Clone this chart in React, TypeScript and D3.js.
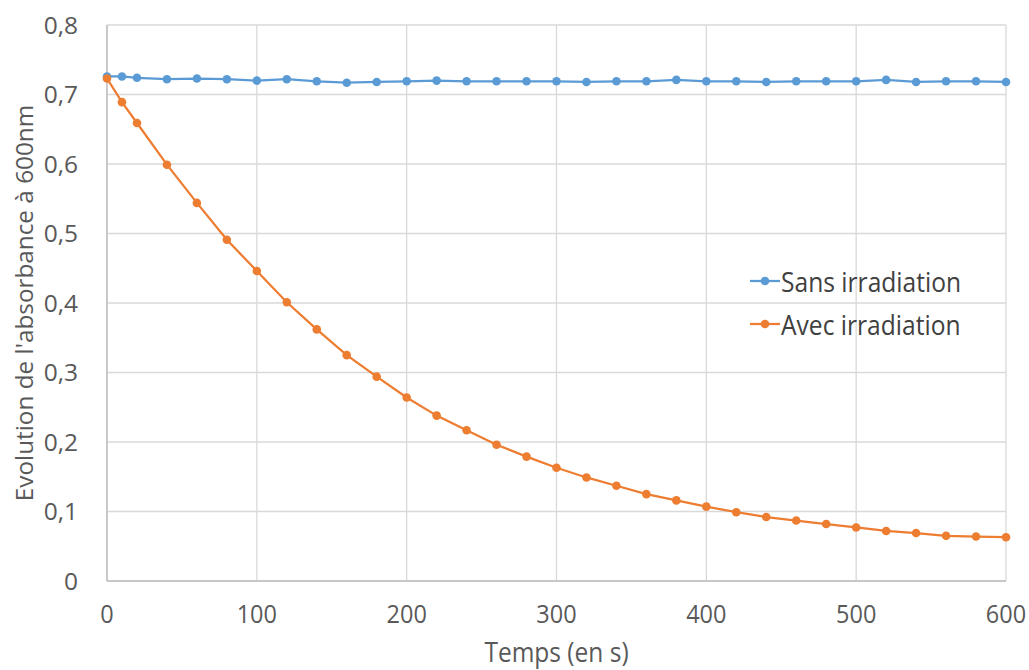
import React from "react";
import * as d3 from "d3";

const times = [0, 10, 20, 40, 60, 80, 100, 120, 140, 160, 180, 200, 220, 240, 260, 280, 300, 320, 340, 360, 380, 400, 420, 440, 460, 480, 500, 520, 540, 560, 580, 600];
const sansIrradiation = [0.726, 0.726, 0.724, 0.722, 0.723, 0.722, 0.720, 0.722, 0.719, 0.717, 0.718, 0.719, 0.720, 0.719, 0.719, 0.719, 0.719, 0.718, 0.719, 0.719, 0.721, 0.719, 0.719, 0.718, 0.719, 0.719, 0.719, 0.721, 0.718, 0.719, 0.719, 0.718];
const avecIrradiation = [0.723, 0.689, 0.659, 0.599, 0.544, 0.491, 0.446, 0.401, 0.362, 0.325, 0.294, 0.264, 0.238, 0.217, 0.196, 0.179, 0.163, 0.149, 0.137, 0.125, 0.116, 0.107, 0.099, 0.092, 0.087, 0.082, 0.077, 0.072, 0.069, 0.065, 0.064, 0.063];
const xTicks = [0, 100, 200, 300, 400, 500, 600];
const yTicks = [0, 0.1, 0.2, 0.3, 0.4, 0.5, 0.6, 0.7, 0.8];
const seriesNames = ["Sans irradiation", "Avec irradiation"];
const colors = ["#5B9BD5", "#ED7D31"];

const font = "'Open Sans', sans-serif";

function Txt(props: { x: number; y: number; size: number; sy?: number; anchor?: string; fill?: string; rotate?: number; children: React.ReactNode }) {
  const { x, y, size, sy = 1, anchor = "start", fill = "#595959", rotate = 0, children } = props;
  return (
    <g transform={`translate(${x},${y}) rotate(${rotate}) scale(1,${sy})`}>
      <text x={0} y={0} textAnchor={anchor as any} fontFamily={font} fontSize={size} fill={fill}>
        {children}
      </text>
    </g>
  );
}

export default function App() {
  const W = 1029, H = 670;
  const left = 107, right = 1006, top = 25, bottom = 581;
  const x = d3.scaleLinear().domain([0, 600]).range([left, right]);
  const y = d3.scaleLinear().domain([0, 0.8]).range([bottom, top]);
  const series = [sansIrradiation, avecIrradiation];
  const line = d3.line<number>().x((_, i) => x(times[i])).y((d) => y(d));
  const fmt = (v: number) => (v === 0 ? "0" : d3.format(".1f")(v).replace(".", ","));
  return (
    <svg width={W} height={H} style={{ position: "absolute", left: 0, top: 0, background: "#fff" }}>
      {yTicks.map((t) => (
        <line key={"gy" + t} x1={left} x2={right} y1={y(t)} y2={y(t)} stroke="#D9D9D9" strokeWidth={1.3} />
      ))}
      {xTicks.map((t) => (
        <line key={"gx" + t} x1={x(t)} x2={x(t)} y1={top} y2={bottom} stroke="#D9D9D9" strokeWidth={1.3} />
      ))}
      <line x1={left} x2={left} y1={top} y2={bottom} stroke="#BFBFBF" strokeWidth={1.5} />
      <line x1={left} x2={right} y1={bottom} y2={bottom} stroke="#BFBFBF" strokeWidth={1.5} />
      {yTicks.map((t) => (
        <Txt key={"ty" + t} x={78} y={y(t) + 8.8} size={24.5} anchor="end">
          {fmt(t)}
        </Txt>
      ))}
      {xTicks.map((t) => (
        <Txt key={"tx" + t} x={x(t)} y={623} size={23.5} sy={1.1} anchor="middle">
          {t}
        </Txt>
      ))}
      <Txt x={(left + right) / 2} y={662} size={24.5} sy={1.1} anchor="middle">
        Temps (en s)
      </Txt>
      <Txt x={33} y={(top + bottom) / 2} size={24.3} anchor="middle" rotate={-90}>
        Evolution de l'absorbance à 600nm
      </Txt>
      {series.map((s, k) => (
        <g key={"s" + k}>
          <path d={line(s) || ""} fill="none" stroke={colors[k]} strokeWidth={2.25} />
          {s.map((v, i) => (
            <circle key={i} cx={x(times[i])} cy={y(v)} r={4.3} fill={colors[k]} />
          ))}
        </g>
      ))}
      {seriesNames.map((n, k) => (
        <g key={"l" + k}>
          <line x1={750} x2={780} y1={281 + k * 43} y2={281 + k * 43} stroke={colors[k]} strokeWidth={2.25} />
          <circle cx={765} cy={281 + k * 43} r={4.3} fill={colors[k]} />
          <Txt x={781} y={291.5 + k * 43} size={24.6} sy={1.12} fill="#404040">
            {n}
          </Txt>
        </g>
      ))}
    </svg>
  );
}
